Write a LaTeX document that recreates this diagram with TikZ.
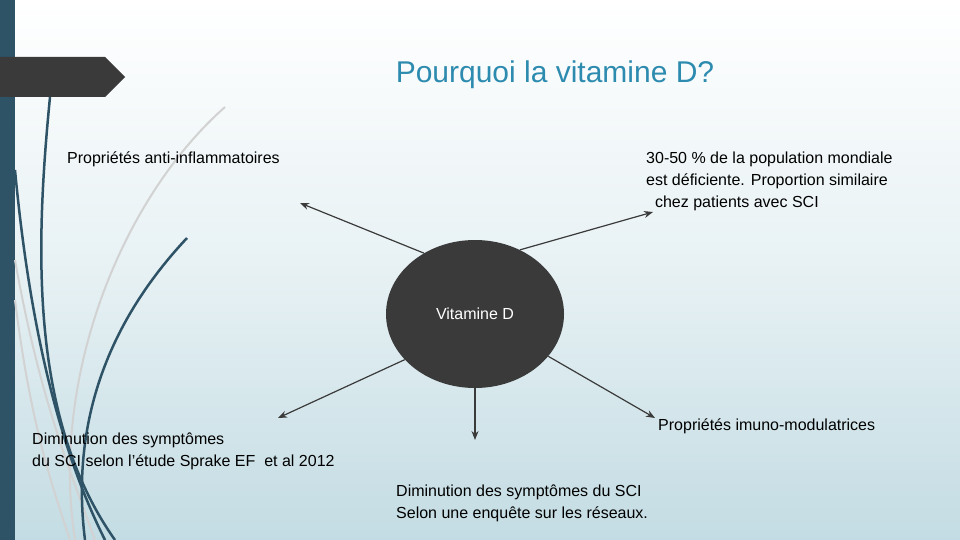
\documentclass[tikz,border=0pt]{standalone}
\usepackage{fontspec}
\setmainfont{Liberation Sans}
\usetikzlibrary{arrows.meta, shapes.geometric}
\definecolor{barblue}{HTML}{2E5266}
\definecolor{titleblue}{HTML}{2D8BAF}
\definecolor{bgbottom}{HTML}{C3DCE3}
\definecolor{ovalgray}{HTML}{3A3A3A}
\tikzset{
    lbl/.style={font=\fontsize{16}{22}\selectfont, align=left, inner sep=0pt},
    link/.style={draw=ovalgray, line width=1.2pt, -{Stealth[length=9pt,width=7pt]}},
    swirl/.style={line width=2.5pt, barblue},
    pale/.style={line width=2pt, gray!35}
}
\begin{document}
\begin{tikzpicture}[x=1pt, y=-1pt]
    %BACKGROUND
    \shade[top color=white, bottom color=bgbottom, middle color=white!60!bgbottom] (0,0) rectangle (960,540);
    \useasboundingbox (0,0) rectangle (960,540);
    \fill[barblue] (0,0) rectangle (15,540);
    \fill[ovalgray] (0,57) -- (105,57) -- (125,77) -- (105,97) -- (0,97) -- cycle;
    \draw[pale] (225,107) .. controls (120,200) and (50,380) .. (75,540);
    \draw[pale] (15,260) .. controls (40,400) and (70,470) .. (95,540);
    \draw[pale] (15,300) .. controls (30,420) and (50,480) .. (70,540);
    \draw[swirl] (50,97) .. controls (35,250) and (30,420) .. (115,540);
    \draw[swirl] (15,170) .. controls (30,330) and (60,450) .. (105,540);
    \draw[swirl] (187,238) .. controls (110,320) and (70,420) .. (85,540);

    %NODES
    \node (title) at (555,75) {\textcolor{titleblue}{\fontsize{30}{36}\selectfont Pourquoi la vitamine D?}};
    \node (vit) [ellipse, fill=ovalgray, minimum width=178pt, minimum height=148pt, text=white, font=\fontsize{16}{20}\selectfont] at (475,314) {Vitamine D};
    \node (anti) [lbl, anchor=north west] at (67,152) {Propriétés anti-inflammatoires};
    \node (pop) [lbl, anchor=north west] at (646,152) {30-50 \% de la population mondiale\\est déficiente. Proportion similaire\\\ \ chez patients avec SCI};
    \node (sprake) [lbl, anchor=north west] at (32,433) {Diminution des symptômes\\du SCI selon l’étude Sprake EF\ \ et al 2012};
    \node (imuno) [lbl, anchor=north west] at (658,419) {Propriétés imuno-modulatrices};
    \node (enq) [lbl, anchor=north west] at (396,485) {Diminution des symptômes du SCI\\Selon une enquête sur les réseaux.};
    \coordinate (pa) at (300,203);
    \coordinate (pb) at (653,212);
    \coordinate (pc) at (278,418);
    \coordinate (pd) at (475,440);
    \coordinate (pe) at (655,418);

    %PATHS
    \draw[link] (vit.130) -- (pa);
    \draw[link] (vit.55) -- (pb);
    \draw[link] (vit.213) -- (pc);
    \draw[link] (vit.south) -- (pd);
    \draw[link] (vit.330) -- (pe);
\end{tikzpicture}
\end{document}
